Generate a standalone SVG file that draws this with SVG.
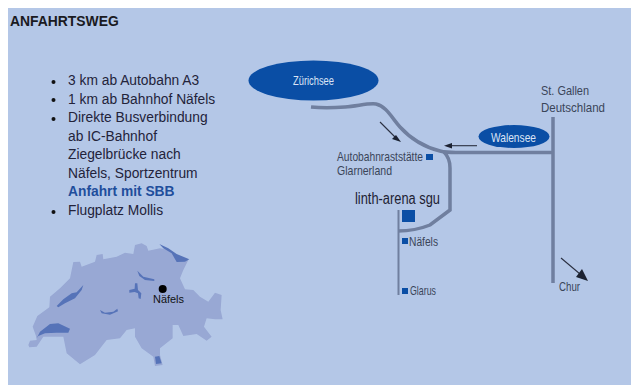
<svg xmlns="http://www.w3.org/2000/svg" width="631" height="385" viewBox="0 0 631 385">
<defs>
<filter id="soft" x="-5%" y="-5%" width="110%" height="110%"><feGaussianBlur stdDeviation="0.45"/></filter>
</defs>
<style>
text{font-family:"Liberation Sans",Arial,sans-serif}
.t{font-size:13.8px;fill:#23233a}
.m{fill:#3a4559;font-size:13px}
.road{fill:none;stroke:#6f7f9f;stroke-width:3.5}
.thin{fill:none;stroke:#6f7f9f;stroke-width:2}
.sq{fill:#0a4ea5}
.lake{fill:#0a4ea5}
.arr{fill:none;stroke:#2a2f40;stroke-width:1.1}
.ah{fill:#1c2130}
.w{fill:#dbe4f5;font-size:13px}
.ch{fill:#98a8d4}
.cl{fill:#5673b8}
</style>
<rect width="631" height="385" fill="#fff"/>
<rect x="8" y="8" width="623" height="377" fill="#b4c7e7"/>
<text x="10" y="26" style="font-size:13.9px;font-weight:bold;fill:#1a1a22">ANFAHRTSWEG</text>
<g id="list">
<circle cx="53.5" cy="82" r="2" fill="#111"/><circle cx="53.5" cy="100" r="2" fill="#111"/><circle cx="53.5" cy="119" r="2" fill="#111"/><circle cx="53.5" cy="212" r="2" fill="#111"/>
<text class="t" x="68" y="85">3 km ab Autobahn A3</text>
<text class="t" x="68" y="104">1 km ab Bahnhof Näfels</text>
<text class="t" x="68" y="122">Direkte Busverbindung</text>
<text class="t" x="68" y="141">ab IC-Bahnhof</text>
<text class="t" x="68" y="159">Ziegelbrücke nach</text>
<text class="t" x="68" y="178">Näfels, Sportzentrum</text>
<text class="t" x="68" y="196" style="font-weight:bold;fill:#1f4e9c">Anfahrt mit SBB</text>
<text class="t" x="68" y="215">Flugplatz Mollis</text>
</g>
<g id="swiss-map">
<g transform="translate(20 230) scale(.3333)" filter="url(#soft)">
<path class="ch" d="M25 345L30 332L50 330L48 318L38 290L52 258L88 232L90 200L120 175L150 145L155 120L160 96L180 95L185 110L225 95L230 75L248 72L250 88L290 80L315 68L340 72L345 45L365 40L380 48L385 62L420 55L450 60L470 80L505 90L490 120L480 145L495 178L520 180L540 200L565 215L585 188L605 195L602 240L608 268L585 268L560 265L552 290L575 320L560 332L530 312L490 318L475 285L458 285L458 325L420 355L420 375L428 405L405 408L400 380L365 355L345 320L345 295L320 300L300 325L260 330L225 375L180 403L140 370L130 320L100 320L70 320L50 350L28 352Z"/>
<path class="cl" d="M50 325L60 305L90 282L115 280L150 296L145 308L110 308L75 310L55 318Z"/>
<path class="cl" d="M110 228L130 208L155 190L170 187L190 165L185 180L165 205L135 220L115 232Z"/>
<path class="cl" d="M418 42L445 55L470 72L508 88L495 95L470 96L455 70L430 55Z"/>
<path class="cl" d="M352 122L370 140L403 148L403 153L375 150L358 138Z"/>
<path class="cl" d="M345 160L352 160L354 180L364 190L362 207L356 205L354 190L344 186L328 188L328 180L344 176Z"/>
<path class="cl" d="M240 240L255 248L280 245L292 236L294 244L270 254L245 250Z"/>
<path class="cl" d="M405 380L418 378L425 400L408 402Z"/>
</g>
<circle cx="162.7" cy="289" r="4" fill="#000"/>
<text x="153" y="303" textLength="31" lengthAdjust="spacingAndGlyphs" style="font-size:11px;fill:#111">Näfels</text>
</g>
<g id="connectors" filter="url(#soft)">
<path class="road" d="M311 107C320 108 333 108 345 107C358 106 368 103 376 104C386 106 392 118 400 127C410 138 424 147 440 151C446 152.500 450 152.500 456 152.500H553"/>
<path class="road" d="M444 152C449 157 450 162 450 168V210L430 225C420 229 410 231 398 231"/>
<path class="thin" d="M398.500 210V295"/>
<path class="road" d="M553 117V283"/>
<path class="arr" d="M380 122L396 138"/><path class="ah" d="M401 142L392 139L396 135Z"/>
<path class="arr" d="M477 145.700H450"/><path class="ah" d="M444 145.700L452 143V148.500Z"/>
<path class="arr" d="M561 258L580 274"/><path class="ah" d="M588 281L576 277L582 269Z"/>
</g>
<g id="zuerichsee"><ellipse class="lake" cx="313.500" cy="80.500" rx="65" ry="20"/><text class="w" x="293" y="85" textLength="41" lengthAdjust="spacingAndGlyphs">Zürichsee</text></g>
<g id="walensee"><ellipse class="lake" cx="514" cy="136.500" rx="35.500" ry="11.500"/><text class="w" x="491" y="142" textLength="45" lengthAdjust="spacingAndGlyphs">Walensee</text></g>
<g id="st-gallen"><text class="m" x="541" y="95" textLength="48" lengthAdjust="spacingAndGlyphs">St. Gallen</text><text class="m" x="541" y="112" textLength="64" lengthAdjust="spacingAndGlyphs">Deutschland</text></g>
<g id="chur"><text class="m" x="559" y="291" textLength="21" lengthAdjust="spacingAndGlyphs">Chur</text></g>
<g id="raststaette"><rect class="sq" x="426" y="154" width="7" height="6"/><text class="m" x="337" y="161" textLength="86" lengthAdjust="spacingAndGlyphs">Autobahnraststätte</text><text class="m" x="337" y="175" textLength="55" lengthAdjust="spacingAndGlyphs">Glarnerland</text></g>
<g id="linth-arena"><rect class="sq" x="402" y="210" width="13" height="12"/><text x="355" y="204" textLength="85" lengthAdjust="spacingAndGlyphs" style="font-size:16px;fill:#1d2233">linth-arena sgu</text></g>
<g id="naefels"><rect class="sq" x="402" y="238" width="6" height="6"/><text class="m" x="409" y="245.500" textLength="29" lengthAdjust="spacingAndGlyphs">Näfels</text></g>
<g id="glarus"><rect class="sq" x="402" y="288" width="6" height="6"/><text class="m" x="410" y="294.500" textLength="26" lengthAdjust="spacingAndGlyphs">Glarus</text></g>
</svg>
